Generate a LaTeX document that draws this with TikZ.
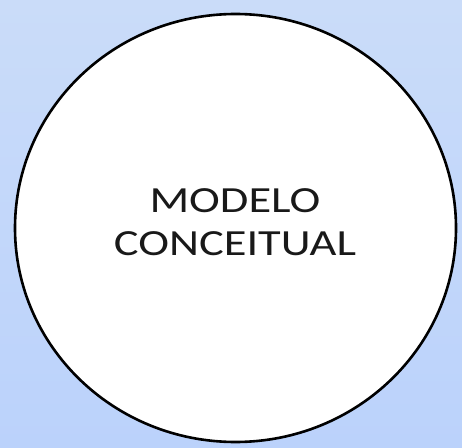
\documentclass[tikz,border=0pt]{standalone}
\usepackage{fontspec}
\setmainfont{Carlito}
\newfontfamily\lblfont[FakeStretch=1.26]{Carlito}
\usetikzlibrary{shapes.geometric}
\definecolor{bgtop}{HTML}{CADCF9}
\definecolor{bgbot}{HTML}{BBD2FB}
\begin{document}
\begin{tikzpicture}[x=1bp,y=-1bp,
  circ/.style={draw=black,line width=2.6bp,fill=white},
  lbl/.style={font=\lblfont\fontsize{37}{43}\selectfont,text=black!90,align=center}]
\shade[top color=bgtop,bottom color=bgbot] (0,0) rectangle (462,448);
\useasboundingbox (0,0) rectangle (462,448);
\node[circ,ellipse,minimum width=441bp,minimum height=428bp,inner sep=0pt] (c) at (235.5,228) {};
\node[lbl] (t) at (235,222) {MODELO\\CONCEITUAL};
\end{tikzpicture}
\end{document}
